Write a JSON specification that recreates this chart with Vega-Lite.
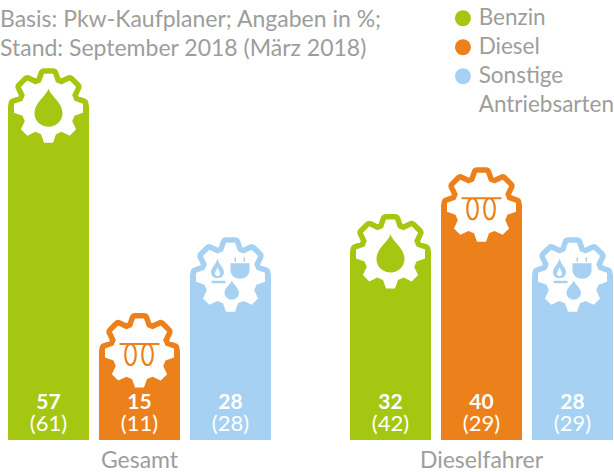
{
"$schema":"https://vega.github.io/schema/vega-lite/v6.json",
"width":605,"height":440,
"autosize":{"type":"none"},
"padding":{"left":8,"top":0,"right":1,"bottom":32},
"background":"white",
"config":{"view":{"stroke":null},"font":"Lato"},
"title":{"text":["Basis: Pkw-Kaufplaner; Angaben in %;","Stand: September 2018 (März 2018)"],"anchor":"start","frame":"group","orient":"top","baseline":"top","dx":-8,"dy":61,"offset":0,"font":"Lato","fontSize":23,"fontWeight":"normal","color":"#9d9d9c","lineHeight":29},
"data":{"values":[
{"gruppe":"Gesamt","kraftstoff":"Benzin","wert":57,"vorjahr":"(61)"},
{"gruppe":"Gesamt","kraftstoff":"Diesel","wert":15,"vorjahr":"(11)"},
{"gruppe":"Gesamt","kraftstoff":"Sonstige Antriebsarten","wert":28,"vorjahr":"(28)"},
{"gruppe":"Dieselfahrer","kraftstoff":"Benzin","wert":32,"vorjahr":"(42)"},
{"gruppe":"Dieselfahrer","kraftstoff":"Diesel","wert":40,"vorjahr":"(29)"},
{"gruppe":"Dieselfahrer","kraftstoff":"Sonstige Antriebsarten","wert":28,"vorjahr":"(29)"}
]},
"encoding":{
"x":{"field":"gruppe","type":"nominal","sort":["Gesamt","Dieselfahrer"],"scale":{"paddingInner":0.231,"paddingOuter":0},"axis":{"title":null,"domain":false,"ticks":false,"labelAngle":0,"labelFont":"Lato","labelFontSize":23,"labelColor":"#9d9d9c","labelPadding":9}},
"xOffset":{"field":"kraftstoff","type":"nominal","sort":["Benzin","Diesel","Sonstige Antriebsarten"],"scale":{"paddingInner":0.11,"paddingOuter":0}}
},
"layer":[
{"mark":{"type":"bar","cornerRadiusTopLeft":8,"cornerRadiusTopRight":8,"width":81},
"encoding":{"y":{"field":"wert","type":"quantitative","scale":{"domain":[-1.46,74],"zero":false,"nice":false},"axis":null},
"y2":{"datum":-1.46},
"color":{"field":"kraftstoff","type":"nominal","sort":["Benzin","Diesel","Sonstige Antriebsarten"],"scale":{"domain":["Benzin","Diesel","Sonstige Antriebsarten"],"range":["#a6c712","#ec811b","#a6d1f2"]},
"legend":{"title":null,"orient":"none","legendX":443.7,"legendY":7,"symbolType":"circle","symbolSize":256,"symbolStrokeWidth":0,"labelFont":"Lato","labelFontSize":22.5,"labelColor":"#9d9d9c","labelOffset":4.5,"rowPadding":6,"encoding":{"labels":{"lineHeight":{"value":28.5}}},"labelExpr":"datum.label == 'Sonstige Antriebsarten' ? ['Sonstige','Antriebsarten'] : datum.label"}}}},
{"mark":{"type":"point","filled":true,"size":4,"yOffset":9,"strokeWidth":11,"strokeJoin":"round","opacity":1,"shape":"M-7.5,-26L-4.5,-34.5L4.5,-34.5L7.5,-26L13.08,-23.69L21.21,-27.58L27.58,-21.21L23.69,-13.08L26,-7.5L34.5,-4.5L34.5,4.5L26,7.5L23.69,13.08L27.58,21.21L21.21,27.58L13.08,23.69L7.5,26L4.5,34.5L-4.5,34.5L-7.5,26L-13.08,23.69L-21.21,27.58L-27.58,21.21L-23.69,13.08L-26,7.5L-34.5,4.5L-34.5,-4.5L-26,-7.5L-23.69,-13.08L-27.58,-21.21L-21.21,-27.58L-13.08,-23.69Z"},
"encoding":{"y":{"field":"wert","type":"quantitative"},
"color":{"field":"kraftstoff","type":"nominal"},
"stroke":{"field":"kraftstoff","type":"nominal","scale":{"domain":["Benzin","Diesel","Sonstige Antriebsarten"],"range":["#a6c712","#ec811b","#a6d1f2"]},"legend":null}}},
{"mark":{"type":"point","filled":true,"size":4,"yOffset":9,"color":"white","opacity":1,"shape":"M-7.5,-26L-4.5,-34.5L4.5,-34.5L7.5,-26L13.08,-23.69L21.21,-27.58L27.58,-21.21L23.69,-13.08L26,-7.5L34.5,-4.5L34.5,4.5L26,7.5L23.69,13.08L27.58,21.21L21.21,27.58L13.08,23.69L7.5,26L4.5,34.5L-4.5,34.5L-7.5,26L-13.08,23.69L-21.21,27.58L-27.58,21.21L-23.69,13.08L-26,7.5L-34.5,4.5L-34.5,-4.5L-26,-7.5L-23.69,-13.08L-27.58,-21.21L-21.21,-27.58L-13.08,-23.69Z"},
"encoding":{"y":{"field":"wert","type":"quantitative"}}},
{"transform":[{"filter":"datum.kraftstoff == 'Benzin'"}],
"mark":{"type":"point","filled":true,"size":4,"yOffset":9,"opacity":1,"shape":"M0,-19.5C3,-11 14,-6 14,5C14,13 7.5,18.5 0,18.5C-7.5,18.5 -14,13 -14,5C-14,-6 -3,-11 0,-19.5Z"},
"encoding":{"y":{"field":"wert","type":"quantitative"},"color":{"field":"kraftstoff","type":"nominal"}}},
{"transform":[{"filter":"datum.kraftstoff == 'Diesel'"}],
"mark":{"type":"point","filled":false,"size":4,"yOffset":9,"strokeWidth":2.2,"opacity":1,"shape":"M-20,-9L20,-9M-9,-9C-16,-9 -16,12 -9,12C-2,12 -2,-9 -9,-9M8,-9C1,-9 1,12 8,12C15,12 15,-9 8,-9"},
"encoding":{"y":{"field":"wert","type":"quantitative"},"color":{"field":"kraftstoff","type":"nominal"}}},
{"transform":[{"filter":"datum.kraftstoff == 'Sonstige Antriebsarten'"}],
"mark":{"type":"point","filled":true,"size":4,"yOffset":9,"opacity":1,"shape":"M-13,-19C-12,-13 -6.5,-10 -6.5,-5C-6.5,-2 -9,1 -13,1C-17,1 -19.5,-2 -19.5,-5C-19.5,-10 -14,-13 -13,-19ZM-13,-10C-14,-7 -15.5,-6 -15.5,-4C-15.5,-2.5 -15,-1.5 -13,-1C-11,-1.5 -10.5,-2.5 -10.5,-4C-10.5,-6 -12,-7 -13,-10ZM-19,3.5L-5,3.5L-5,6L-19,6ZM0,-14L19,-14L19,-7C19,-2 14.5,1.5 9.5,1.5C4.5,1.5 0,-2 0,-7ZM4,-20L5.5,-20L5.5,-15.5L4,-15.5ZM13,-20L14.5,-20L14.5,-15.5L13,-15.5ZM1.3,3C2,7 8.5,10 8.5,15.5C8.5,19.5 5,22.5 1.3,22.5C-2.4,22.5 -6,19.5 -6,15.5C-6,10 0.6,7 1.3,3Z"},
"encoding":{"y":{"field":"wert","type":"quantitative"},"color":{"field":"kraftstoff","type":"nominal"}}},
{"mark":{"type":"text","color":"white","font":"Lato","fontWeight":"bold","fontSize":21,"baseline":"alphabetic","dy":-31},
"encoding":{"y":{"datum":-1.46},"text":{"field":"wert","type":"quantitative"}}},
{"mark":{"type":"text","color":"white","font":"Lato","fontSize":22,"baseline":"alphabetic","dy":-9},
"encoding":{"y":{"datum":-1.46},"text":{"field":"vorjahr","type":"nominal"}}}
]
}
